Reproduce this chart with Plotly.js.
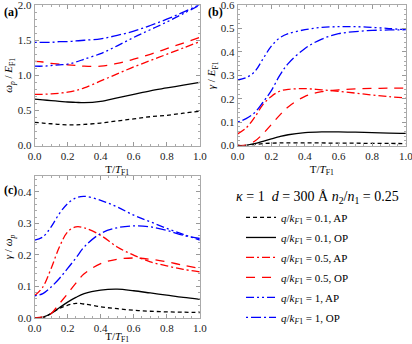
<!DOCTYPE html>
<html>
<head>
<meta charset="utf-8">
<script src="https://cdn.plot.ly/plotly-3.0.1.min.js"></script>
<style>
  body { margin: 0; background: #fff; }
  #chart { width: 412px; height: 344px; }
</style>
</head>
<body>
<div id="chart"></div>
<script>
// T / T_F1 sample points
var T = [0, 0.05, 0.1, 0.15, 0.2, 0.25, 0.3, 0.4, 0.5, 0.6, 0.7, 0.8, 0.9, 1.0];

// (a) omega_p / E_F1
var a_q01_AP = [0.33, 0.32, 0.31, 0.30, 0.295, 0.295, 0.30, 0.32, 0.35, 0.38, 0.41, 0.43, 0.46, 0.49];
var a_q01_OP = [0.66, 0.65, 0.64, 0.63, 0.62, 0.615, 0.61, 0.63, 0.68, 0.73, 0.78, 0.82, 0.86, 0.90];
var a_q05_AP = [0.73, 0.73, 0.735, 0.745, 0.76, 0.785, 0.82, 0.92, 1.02, 1.12, 1.21, 1.30, 1.39, 1.48];
var a_q05_OP = [1.20, 1.19, 1.17, 1.16, 1.15, 1.14, 1.13, 1.13, 1.17, 1.23, 1.30, 1.38, 1.46, 1.54];
var a_q1_AP = [1.13, 1.13, 1.14, 1.15, 1.16, 1.19, 1.23, 1.31, 1.42, 1.54, 1.65, 1.76, 1.88, 2.0];
var a_q1_OP = [1.47, 1.47, 1.47, 1.48, 1.48, 1.49, 1.50, 1.52, 1.57, 1.63, 1.71, 1.80, 1.90, 2.01];

// (b) gamma / E_F1
var b_q01_AP = [0, 0, 0.004, 0.008, 0.01, 0.011, 0.011, 0.011, 0.011, 0.01, 0.01, 0.009, 0.009, 0.008];
var b_q01_OP = [0, 0.001, 0.008, 0.018, 0.028, 0.038, 0.046, 0.055, 0.058, 0.058, 0.057, 0.055, 0.053, 0.052];
var b_q05_AP = [0.05, 0.075, 0.12, 0.175, 0.21, 0.232, 0.24, 0.243, 0.238, 0.232, 0.224, 0.216, 0.209, 0.203];
var b_q05_OP = [0, 0.002, 0.018, 0.05, 0.09, 0.13, 0.165, 0.21, 0.23, 0.238, 0.242, 0.244, 0.245, 0.245];
var b_q1_AP = [0.28, 0.29, 0.315, 0.37, 0.425, 0.46, 0.478, 0.495, 0.505, 0.508, 0.508, 0.505, 0.5, 0.495];
var b_q1_OP = [0.1, 0.115, 0.14, 0.185, 0.235, 0.3, 0.35, 0.415, 0.455, 0.478, 0.487, 0.492, 0.494, 0.495];

// (c) gamma / omega_p
var c_q01_AP = [0, 0, 0.014, 0.03, 0.04, 0.046, 0.044, 0.035, 0.029, 0.024, 0.021, 0.019, 0.018, 0.017];
var c_q01_OP = [0, 0.002, 0.014, 0.032, 0.05, 0.065, 0.077, 0.088, 0.091, 0.086, 0.079, 0.072, 0.065, 0.059];
var c_q05_AP = [0.07, 0.098, 0.157, 0.225, 0.273, 0.289, 0.286, 0.262, 0.225, 0.199, 0.178, 0.165, 0.154, 0.146];
var c_q05_OP = [0, 0.003, 0.014, 0.045, 0.077, 0.11, 0.14, 0.172, 0.186, 0.19, 0.186, 0.178, 0.167, 0.157];
var c_q1_AP = [0.247, 0.257, 0.289, 0.331, 0.363, 0.381, 0.386, 0.373, 0.352, 0.326, 0.305, 0.284, 0.265, 0.247];
var c_q1_OP = [0.07, 0.077, 0.098, 0.125, 0.157, 0.19, 0.225, 0.268, 0.286, 0.292, 0.289, 0.278, 0.262, 0.252];

var names = [
  "<i>q</i>/<i>k</i><sub><i>F</i>1</sub> = 0.1, AP",
  "<i>q</i>/<i>k</i><sub><i>F</i>1</sub> = 0.1, OP",
  "<i>q</i>/<i>k</i><sub><i>F</i>1</sub> = 0.5, AP",
  "<i>q</i>/<i>k</i><sub><i>F</i>1</sub> = 0.5, OP",
  "<i>q</i>/<i>k</i><sub><i>F</i>1</sub> = 1, AP",
  "<i>q</i>/<i>k</i><sub><i>F</i>1</sub> = 1, OP"
];
var colors = ["black", "black", "rgb(255,0,0)", "rgb(255,0,0)", "rgb(0,0,255)", "rgb(0,0,255)"];
var dashes = ["4px,3px", "solid", "8px,3px,2px,3px", "9px,7px", "8px,3px,2px,3px,2px,3px", "2px,3px,10px,3px"];

var panels = [
  { xa: "x", ya: "y", sets: [a_q01_AP, a_q01_OP, a_q05_AP, a_q05_OP, a_q1_AP, a_q1_OP] },
  { xa: "x2", ya: "y2", sets: [b_q01_AP, b_q01_OP, b_q05_AP, b_q05_OP, b_q1_AP, b_q1_OP] },
  { xa: "x3", ya: "y3", sets: [c_q01_AP, c_q01_OP, c_q05_AP, c_q05_OP, c_q1_AP, c_q1_OP] }
];

var data = [];
panels.forEach(function(p, pi) {
  p.sets.forEach(function(ys, i) {
    data.push({
      x: T, y: ys, xaxis: p.xa, yaxis: p.ya,
      mode: "lines", name: names[i], legendgroup: "g" + i,
      showlegend: pi == 2,
      line: { color: colors[i], dash: dashes[i], width: 1.3, shape: "spline" }
    });
  });
});

var serif = "Liberation Serif, Times New Roman, serif";

function xax(domain, anchor) {
  return {
    domain: domain, anchor: anchor, range: [0, 1], dtick: 0.2, tickformat: ".1f",
    ticks: "inside", ticklen: 4, tickcolor: "#999", showline: true, linecolor: "#aaa",
    mirror: "ticks", zeroline: false, showgrid: false, ticklabeloverflow: "allow",
    minor: { dtick: 0.05, ticks: "inside", ticklen: 2, tickcolor: "#aaa" },
    tickfont: { family: serif, size: 11, color: "#222" },
    title: { text: "T/<i>T</i><sub>F1</sub>", font: { family: serif, size: 11 }, standoff: 4 }
  };
}
function yax(domain, anchor, range, dtick, minor, title) {
  return {
    domain: domain, anchor: anchor, range: range, dtick: dtick, tickformat: ".1f",
    ticks: "inside", ticklen: 4, tickcolor: "#999", showline: true, linecolor: "#aaa",
    mirror: "ticks", zeroline: false, showgrid: false, ticklabeloverflow: "allow",
    minor: { dtick: minor, ticks: "inside", ticklen: 2, tickcolor: "#aaa" },
    tickfont: { family: serif, size: 11, color: "#222" },
    title: { text: title, font: { family: serif, size: 11 }, standoff: 2 }
  };
}

var layout = {
  width: 412, height: 344,
  margin: { l: 0, r: 0, t: 0, b: 0 },
  paper_bgcolor: "white", plot_bgcolor: "white",
  font: { family: serif, color: "black" },
  xaxis: xax([0.084, 0.485], "y"),
  yaxis: yax([0.577, 0.985], "x", [0, 2], 0.5, 0.1, "<i>ω<sub>p</sub></i> / <i>E</i><sub>F1</sub>"),
  xaxis2: xax([0.577, 0.985], "y2"),
  yaxis2: yax([0.577, 0.985], "x2", [0, 0.6], 0.1, 0.02, "<i>γ</i> / <i>E</i><sub>F1</sub>"),
  xaxis3: xax([0.084, 0.485], "y3"),
  yaxis3: yax([0.076, 0.488], "x3", [0, 0.45], 0.1, 0.02, "<i>γ</i> / <i>ω<sub>p</sub></i>"),
  legend: {
    x: 0.585, y: 0.41, xanchor: "left", yanchor: "top",
    font: { family: serif, size: 11 }, tracegroupgap: 1,
    bgcolor: "rgba(0,0,0,0)"
  },
  annotations: [
    { text: "<b>(a)</b>", xref: "paper", yref: "paper", x: 0.005, y: 0.99, xanchor: "left", yanchor: "top", showarrow: false, font: { family: serif, size: 12 } },
    { text: "<b>(b)</b>", xref: "paper", yref: "paper", x: 0.5, y: 0.99, xanchor: "left", yanchor: "top", showarrow: false, font: { family: serif, size: 12 } },
    { text: "<b>(c)</b>", xref: "paper", yref: "paper", x: 0.005, y: 0.475, xanchor: "left", yanchor: "top", showarrow: false, font: { family: serif, size: 12 } },
    { text: "<i>κ</i> = 1  <i>d</i> = 300 Å <i>n</i><sub>2</sub>/<i>n</i><sub>1</sub> = 0.25", xref: "paper", yref: "paper", x: 0.77, y: 0.425, xanchor: "center", yanchor: "middle", showarrow: false, font: { family: serif, size: 14 } }
  ]
};

Plotly.newPlot("chart", data, layout, { displayModeBar: false, staticPlot: true });
</script>
</body>
</html>
